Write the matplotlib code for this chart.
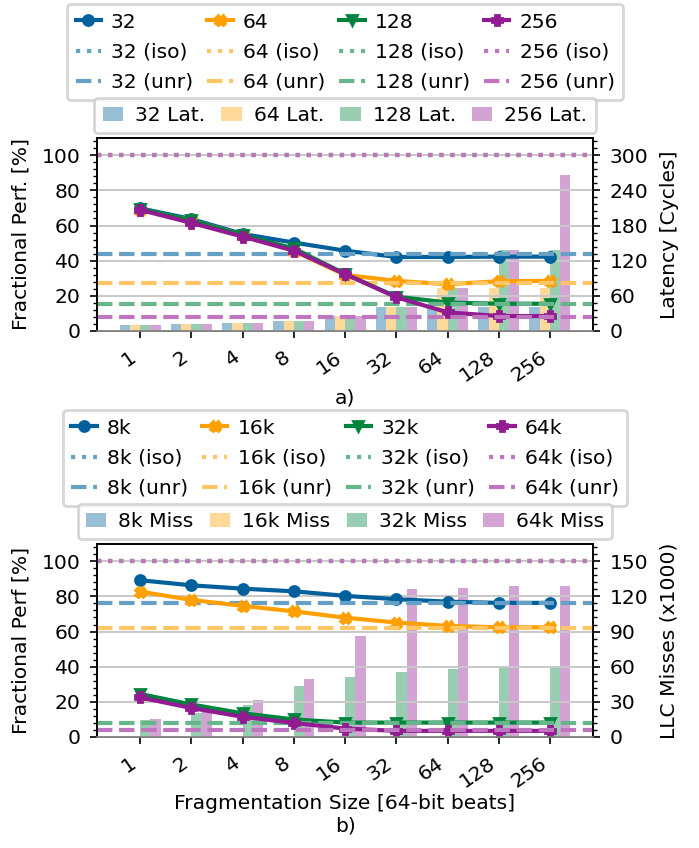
import matplotlib
matplotlib.use("Agg")
import numpy as np
import matplotlib.pyplot as plt
from matplotlib.colors import to_rgb
from matplotlib.ticker import AutoMinorLocator, MultipleLocator

# ============================================================
# DATA
# ============================================================
frag_sizes = ["1", "2", "4", "8", "16", "32", "64", "128", "256"]

# a) burst sizes
a_labels = ["32", "64", "128", "256"]
a_perf_32 = [69.8, 63.7, 55.2, 50.3, 45.7, 42.1, 42.1, 42.3, 42.3]
a_perf_64 = [69.0, 63.0, 54.5, 45.5, 31.9, 28.5, 26.6, 28.3, 28.5]
a_perf_128 = [69.5, 63.0, 54.5, 47.0, 32.5, 19.5, 16.2, 15.5, 15.5]
a_perf_256 = [68.9, 61.5, 53.7, 45.7, 32.4, 19.2, 10.6, 8.5, 8.5]
a_iso = [100, 100, 100, 100]
a_unr = [44.0, 27.1, 15.6, 8.2]
a_lat_32 = [10, 12.5, 14, 17.7, 25.6, 41.6, 41.5, 41.5, 41.5]
a_lat_64 = [10, 12.5, 14, 17.7, 25.6, 41.6, 73.4, 73.4, 73.4]
a_lat_128 = [10, 12.5, 14, 17.7, 25.6, 41.6, 73.4, 138, 138]
a_lat_256 = [10, 12.5, 14, 17.7, 25.6, 41.6, 73.4, 138, 267]

# b) buffer sizes
b_labels = ["8k", "16k", "32k", "64k"]
b_perf_8k = [89.2, 86.3, 84.4, 82.9, 80.3, 78.4, 77.0, 76.3, 76.3]
b_perf_16k = [82.7, 78.0, 74.6, 71.5, 67.9, 65.1, 63.2, 62.4, 62.4]
b_perf_32k = [24.5, 18.5, 13.5, 10.0, 8.2, 8.2, 8.2, 8.2, 8.2]
b_perf_64k = [22.5, 16.5, 11.5, 8.0, 4.8, 3.5, 3.5, 3.5, 3.5]
b_iso = [100, 100, 100, 100]
b_unr = [76.5, 62.2, 8.2, 3.8]
b_miss_8k = [0, 0, 0, 0, 0, 0, 0, 0, 0]
b_miss_16k = [0, 0, 0, 0, 0, 0, 0, 0, 0]
b_miss_32k = [14.6, 20.3, 27.3, 43.8, 51.5, 55.5, 58.4, 60.0, 60.0]
b_miss_64k = [15.3, 22.2, 31.7, 49.5, 86.3, 126.5, 127.2, 129.0, 129.0]

COLORS = ["#00609c", "#ffa000", "#00843d", "#921b92"]
MARKERS = ["o", "X", "v", "P"]


def lighten(c, amount=0.6):
    # blend with white so overlapping reference lines stay clean
    r, g, b = to_rgb(c)
    return (1 - amount * (1 - r), 1 - amount * (1 - g), 1 - amount * (1 - b))


LIGHT = [lighten(c) for c in COLORS]

# ============================================================
# STYLE
# ============================================================
plt.rcParams.update({
    "font.size": 7.3,
    "axes.linewidth": 0.6,
    "xtick.major.width": 0.6,
    "ytick.major.width": 0.6,
    "ytick.minor.width": 0.5,
    "xtick.major.size": 2.5,
    "ytick.major.size": 2.5,
    "ytick.minor.size": 1.5,
})

fig = plt.figure(figsize=(3.495, 4.24), dpi=200)
ax_a = fig.add_axes([0.1388, 0.6097, 0.7096, 0.228])
ax_b = fig.add_axes([0.1388, 0.1309, 0.7096, 0.228])


def draw_panel(ax, labels, perfs, iso, unr, bars, bar_suffix, ylabel, y2label,
               y2max, y2step, xlabel):
    x = np.arange(len(frag_sizes))
    ax2 = ax.twinx()
    ax.set_zorder(ax2.get_zorder() + 1)
    ax.patch.set_visible(False)

    # bars on the secondary axis
    bar_handles = []
    width = 0.2
    for i, vals in enumerate(bars):
        h = ax2.bar(x + (i - 1.5) * width, vals, width, color=COLORS[i],
                    alpha=0.4, linewidth=0, label=f"{labels[i]} {bar_suffix}")
        bar_handles.append(h)

    # measured curves + reference lines
    line_handles = []
    for i, vals in enumerate(perfs):
        ln, = ax.plot(x, vals, color=COLORS[i], marker=MARKERS[i],
                      markersize=3.6, linewidth=1.5, label=labels[i])
        iso_ln = ax.axhline(iso[i], color=LIGHT[i], linestyle=":",
                            linewidth=1.5, label=f"{labels[i]} (iso)")
        unr_ln = ax.axhline(unr[i], color=LIGHT[i], linestyle="--",
                            linewidth=1.5, label=f"{labels[i]} (unr)")
        line_handles += [ln, iso_ln, unr_ln]

    ax.set_xlim(-0.84, 8.84)
    ax.set_ylim(0, 110)
    ax.yaxis.set_major_locator(MultipleLocator(20))
    ax.yaxis.set_minor_locator(AutoMinorLocator(5))
    ax.grid(axis="y", color="#c8c8c8", linewidth=0.7)
    ax.set_xticks(x)
    ax.set_xticklabels(frag_sizes, rotation=35, ha="right")
    ax.set_ylabel(ylabel)
    ax.set_xlabel(xlabel, labelpad=1)

    ax2.set_ylim(0, y2max)
    ax2.yaxis.set_major_locator(MultipleLocator(y2step))
    ax2.yaxis.set_minor_locator(AutoMinorLocator(5))
    ax2.set_ylabel(y2label)

    for a in (ax, ax2):
        a.spines["bottom"].set_color("#808080")

    leg1 = ax.legend(handles=line_handles, ncol=4, loc="lower center",
                     bbox_to_anchor=(0.5, 1.195), borderaxespad=0,
                     handlelength=1.25, columnspacing=0.7, handletextpad=0.5,
                     labelspacing=0.55)
    ax.add_artist(leg1)
    ax.legend(handles=bar_handles, ncol=4, loc="lower center",
              bbox_to_anchor=(0.5, 1.024), borderaxespad=0,
              handlelength=1.0, columnspacing=0.8, handletextpad=0.6)


draw_panel(ax_a, a_labels, [a_perf_32, a_perf_64, a_perf_128, a_perf_256],
           a_iso, a_unr, [a_lat_32, a_lat_64, a_lat_128, a_lat_256], "Lat.",
           "Fractional Perf. [%]", "Latency [Cycles]", 330, 60, "a)")

draw_panel(ax_b, b_labels, [b_perf_8k, b_perf_16k, b_perf_32k, b_perf_64k],
           b_iso, b_unr, [b_miss_8k, b_miss_16k, b_miss_32k, b_miss_64k], "Miss",
           "Fractional Perf [%]", "LLC Misses (x1000)", 165, 30,
           "Fragmentation Size [64-bit beats]\nb)")

fig.savefig("out.png", dpi=200)
